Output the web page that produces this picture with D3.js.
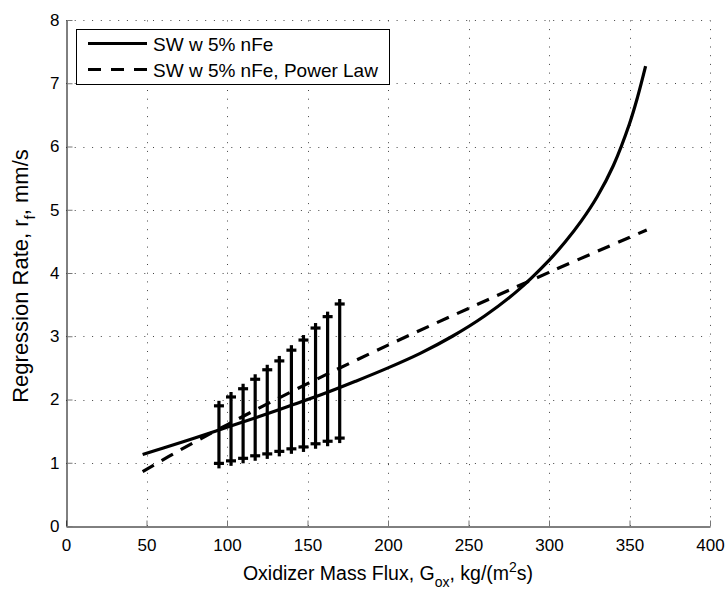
<!DOCTYPE html>
<html>
<head>
<meta charset="utf-8">
<script src="https://cdn.jsdelivr.net/npm/d3@7"></script>
<style>
body { margin: 0; background: #fff; }
text { font-family: "Liberation Sans", Arial, sans-serif; fill: #000; }
</style>
</head>
<body>
<script>
// solid curve, SW w 5% nFe
var solidG = [47.6, 60, 80, 100, 120, 140, 160, 180, 200, 220, 240, 260, 280, 300, 310, 320, 330, 340, 350, 355, 360];
var solidR = [1.13, 1.23, 1.39, 1.56, 1.73, 1.91, 2.09, 2.29, 2.50, 2.73, 3.00, 3.32, 3.71, 4.20, 4.49, 4.82, 5.21, 5.70, 6.36, 6.78, 7.27];

// dashed, power law fit
var powG = [47.6, 75, 100, 125, 150, 200, 250, 300, 360.7];
var powR = [0.86, 1.26, 1.60, 1.93, 2.25, 2.86, 3.44, 4.01, 4.68];

// error bars
var errG = [95, 102.5, 110, 117.5, 125, 132.5, 140, 147.5, 155, 162.5, 170];
var errLow = [0.99, 1.03, 1.07, 1.11, 1.14, 1.18, 1.22, 1.25, 1.30, 1.34, 1.39];
var errHigh = [1.90, 2.04, 2.17, 2.32, 2.47, 2.61, 2.78, 2.94, 3.13, 3.31, 3.51];

var xTicks = [0, 50, 100, 150, 200, 250, 300, 350, 400];
var yTicks = [0, 1, 2, 3, 4, 5, 6, 7, 8];
var legendNames = ['SW w 5% nFe', 'SW w 5% nFe, Power Law'];

var width = 727, height = 589;
var x = d3.scaleLinear().domain([0, 400]).range([66, 710]);
var y = d3.scaleLinear().domain([0, 8]).range([526, 20]);

var svg = d3.select('body').append('svg')
   .attr('width', width)
   .attr('height', height);

// grid
var grid = svg.append('g')
   .attr('stroke', '#444')
   .attr('stroke-width', 1)
   .attr('stroke-dasharray', '1,7.7');
grid.selectAll('line.gx')
   .data(xTicks.slice(1))
  .enter().append('line')
   .attr('class', 'gx')
   .attr('x1', function(d) { return Math.round(x(d)) + 0.5; })
   .attr('x2', function(d) { return Math.round(x(d)) + 0.5; })
   .attr('y1', y(0))
   .attr('y2', y(8));
grid.selectAll('line.gy')
   .data(yTicks.slice(1))
  .enter().append('line')
   .attr('class', 'gy')
   .attr('y1', function(d) { return Math.round(y(d)) + 0.5; })
   .attr('y2', function(d) { return Math.round(y(d)) + 0.5; })
   .attr('x1', x(0))
   .attr('x2', x(400));

// axes
var xAxis = svg.append('g')
   .attr('transform', 'translate(0,' + (Math.round(y(0)) + 0.5) + ')')
   .call(d3.axisBottom(x).tickValues(xTicks).tickSizeInner(-6).tickSizeOuter(0).tickPadding(12));
var yAxis = svg.append('g')
   .attr('transform', 'translate(' + (Math.round(x(0)) + 0.5) + ',0)')
   .call(d3.axisLeft(y).tickValues(yTicks).tickSizeInner(-6).tickSizeOuter(0).tickPadding(7));
[xAxis, yAxis].forEach(function(a) {
   a.select('.domain').attr('stroke', '#000').attr('stroke-width', 1);
   a.selectAll('.tick line').attr('stroke', '#777');
   a.selectAll('.tick text')
      .style('font-family', '"Liberation Sans", Arial, sans-serif')
      .style('font-size', '17px')
      .attr('fill', '#000');
});

// axis labels
var xl = svg.append('text')
   .attr('x', (x(0) + x(400)) / 2)
   .attr('y', 580)
   .attr('text-anchor', 'middle')
   .style('font-size', '19.5px');
xl.append('tspan').text('Oxidizer Mass Flux, G');
xl.append('tspan').attr('dy', 7).style('font-size', '14px').text('ox');
xl.append('tspan').attr('dy', -7).text(', kg/(m');
xl.append('tspan').attr('dy', -8).style('font-size', '14px').text('2');
xl.append('tspan').attr('dy', 8).text('s)');

var yl = svg.append('text')
   .attr('transform', 'translate(28,276) rotate(-90)')
   .attr('text-anchor', 'middle')
   .style('font-size', '22px');
yl.append('tspan').text('Regression Rate, r');
yl.append('tspan').attr('dy', 7).style('font-size', '15px').text('f');
yl.append('tspan').attr('dy', -7).text(', mm/s');

// curves
var line = d3.line()
   .x(function(d) { return x(d[0]); })
   .y(function(d) { return y(d[1]); })
   .curve(d3.curveCatmullRom.alpha(0.5));

svg.append('path')
   .datum(d3.zip(solidG, solidR))
   .attr('d', line)
   .attr('fill', 'none')
   .attr('stroke', '#000')
   .attr('stroke-width', 3.2);

svg.append('path')
   .datum(d3.zip(powG, powR))
   .attr('d', line)
   .attr('fill', 'none')
   .attr('stroke', '#000')
   .attr('stroke-width', 3.2)
   .attr('stroke-dasharray', '13,9');

// error bars with + markers at the ends
var bars = svg.selectAll('g.err')
   .data(d3.zip(errG, errLow, errHigh))
  .enter().append('g')
   .attr('class', 'err')
   .attr('stroke', '#000')
   .attr('stroke-width', 3.2);
bars.append('line')
   .attr('x1', function(d) { return x(d[0]); })
   .attr('x2', function(d) { return x(d[0]); })
   .attr('y1', function(d) { return y(d[1]) + 5; })
   .attr('y2', function(d) { return y(d[2]) - 5; });
bars.append('line')
   .attr('x1', function(d) { return x(d[0]) - 5; })
   .attr('x2', function(d) { return x(d[0]) + 5; })
   .attr('y1', function(d) { return y(d[1]); })
   .attr('y2', function(d) { return y(d[1]); });
bars.append('line')
   .attr('x1', function(d) { return x(d[0]) - 5; })
   .attr('x2', function(d) { return x(d[0]) + 5; })
   .attr('y1', function(d) { return y(d[2]); })
   .attr('y2', function(d) { return y(d[2]); });

// legend
var lg = svg.append('g');
lg.append('rect')
   .attr('x', 76.5).attr('y', 29.5)
   .attr('width', 313).attr('height', 55)
   .attr('fill', '#fff')
   .attr('stroke', '#000')
   .attr('stroke-width', 1);
var items = lg.selectAll('g.item')
   .data(legendNames)
  .enter().append('g')
   .attr('class', 'item')
   .attr('transform', function(d, i) { return 'translate(0,' + (43.5 + i * 26) + ')'; });
items.append('line')
   .attr('x1', 88).attr('x2', 147)
   .attr('stroke', '#000')
   .attr('stroke-width', 3.2)
   .attr('stroke-dasharray', function(d, i) { return i ? '13,10' : null; });
items.append('text')
   .attr('x', 153)
   .attr('y', 7)
   .style('font-size', '19px')
   .text(function(d) { return d; });
</script>
</body>
</html>
